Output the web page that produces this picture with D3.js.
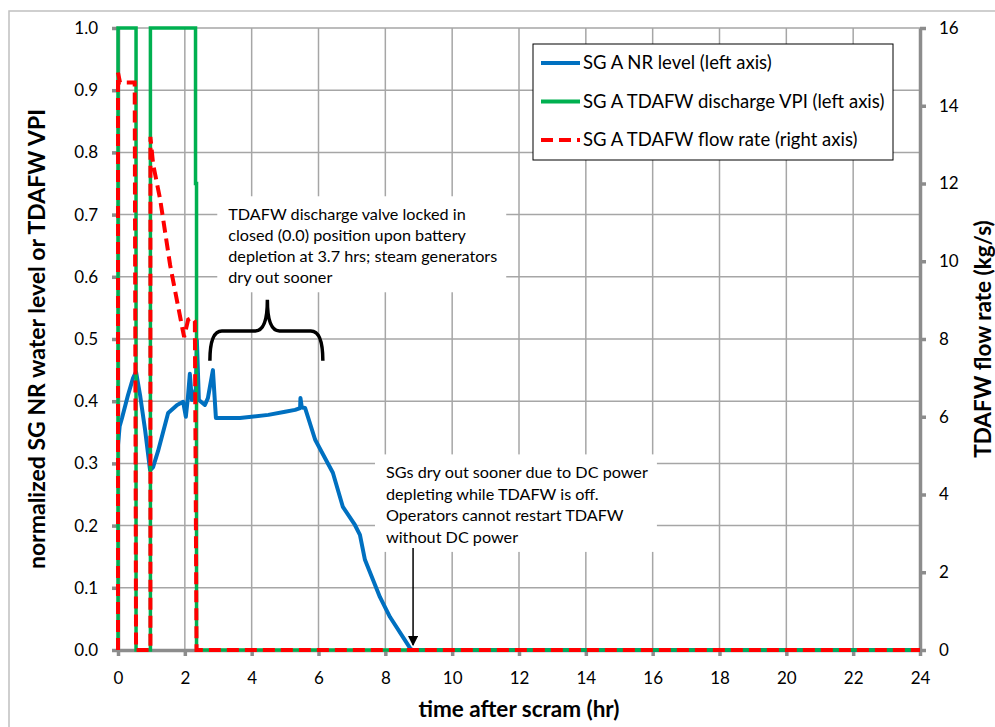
<!DOCTYPE html>
<meta charset="utf-8">
<script src="https://d3js.org/d3.v7.min.js"></script>
<style>
  body { margin: 0; background: #fff; }
  text { font-family: Lato, "Open Sans", sans-serif; fill: #000; }
</style>
<div id="chart"></div>
<script>

// ---- data ----
// SG A NR level (left axis)
var levelT = [0, 0.05, 0.12, 0.3, 0.45, 0.54, 0.66, 0.81, 0.96, 1.05, 1.2, 1.5, 1.77, 1.95, 2.03, 2.09, 2.15, 2.21, 2.27, 2.33, 2.36, 2.42, 2.6, 2.69, 2.84, 2.93, 3.65, 4.5, 5.0, 5.3, 5.45, 5.46, 5.5, 5.6, 5.9, 6.43, 6.73, 7.09, 7.24, 7.39, 7.84, 8.14, 8.74, 8.8, 24];
var levelV = [0.33, 0.36, 0.373, 0.41, 0.437, 0.447, 0.41, 0.354, 0.289, 0.294, 0.32, 0.381, 0.394, 0.399, 0.375, 0.405, 0.444, 0.402, 0.41, 0.42, 0.498, 0.402, 0.394, 0.405, 0.45, 0.373, 0.373, 0.378, 0.383, 0.386, 0.389, 0.405, 0.39, 0.389, 0.338, 0.285, 0.23, 0.201, 0.185, 0.145, 0.085, 0.053, 0.003, 0, 0];

// SG A TDAFW discharge VPI (left axis)
var vpiT = [0, 0, 0.54, 0.54, 0.97, 0.97, 2.32, 2.32, 2.35, 2.35, 24];
var vpiV = [0, 1, 1, 0, 0, 1, 1, 0.75, 0.75, 0, 0];

// SG A TDAFW flow rate (right axis, kg/s)
var flowT = [0, 0, 0.06, 0.5, 0.54, 0.97, 0.97, 1.05, 1.26, 1.56, 1.92, 1.98, 2.1, 2.21, 2.3, 2.35, 24];
var flowV = [0, 14.85, 14.6, 14.6, 0, 0, 13.2, 12.5, 11.6, 9.9, 8.3, 8.05, 8.5, 8.55, 8.45, 0, 0];

var timeTicks = d3.range(0, 25, 2);
var levelTicks = d3.range(0, 11).map(function(i) { return i / 10; });
var flowTicks = d3.range(0, 17, 2);

var seriesNames = ["SG A NR level (left axis)", "SG A TDAFW discharge VPI (left axis)", "SG A TDAFW flow rate (right axis)"];

var note1 = ["TDAFW discharge valve locked in", "closed (0.0) position upon battery", "depletion at 3.7 hrs; steam generators", "dry out sooner"];
var note2 = ["SGs dry out sooner due to DC power", "depleting while TDAFW is off.", "Operators cannot restart TDAFW", "without DC power"];

// ---- layout ----
var W = 995, H = 727;
var margin = {top: 28, right: 75, bottom: 77, left: 118},
    width = W - margin.left - margin.right,
    height = H - margin.top - margin.bottom;

var colors = {level: "#0070C0", vpi: "#00B050", flow: "#FF0000"};
var gray = "#8c8c8c";

var root = d3.select("#chart").append("svg")
    .attr("width", W)
    .attr("height", H);

// outer chart border
root.append("rect")
    .attr("x", 9).attr("y", 11)
    .attr("width", W).attr("height", H)
    .attr("fill", "none")
    .attr("stroke", "#c0c0c0")
    .attr("stroke-width", 1.5);

var svg = root.append("g")
    .attr("transform", "translate(" + margin.left + "," + margin.top + ")");

var x = d3.scaleLinear().domain([0, 24]).range([0, width]);
var y = d3.scaleLinear().domain([0, 1]).range([height, 0]);
var y2 = d3.scaleLinear().domain([0, 16]).range([height, 0]);

// gridlines
svg.append("g").selectAll("line")
    .data(levelTicks.slice(1)).enter()
    .append("line")
    .attr("x1", 0).attr("x2", width)
    .attr("y1", function(d) { return y(d); })
    .attr("y2", function(d) { return y(d); })
    .attr("stroke", "#a6a6a6").attr("stroke-width", 1.5);

svg.append("g").selectAll("line")
    .data(timeTicks.slice(1, -1)).enter()
    .append("line")
    .attr("y1", 0).attr("y2", height)
    .attr("x1", function(d) { return x(d); })
    .attr("x2", function(d) { return x(d); })
    .attr("stroke", "#a6a6a6").attr("stroke-width", 1.5);

// axes
function styleAxis(g) {
    g.select(".domain").attr("stroke", gray).attr("stroke-width", 3.5);
    g.selectAll(".tick line").attr("stroke", gray).attr("stroke-width", 3.5);
    g.selectAll(".tick text").style("font-size", "17px").attr("fill", "#000");
}

svg.append("g")
    .attr("transform", "translate(0," + height + ")")
    .call(d3.axisBottom(x).tickValues(timeTicks).tickFormat(d3.format("d"))
        .tickSizeInner(6).tickSizeOuter(0).tickPadding(16))
    .call(styleAxis);

svg.append("g")
    .call(d3.axisLeft(y).tickValues(levelTicks).tickFormat(d3.format(".1f"))
        .tickSizeInner(6).tickSizeOuter(0).tickPadding(14))
    .call(styleAxis);

svg.append("g")
    .attr("transform", "translate(" + width + ",0)")
    .call(d3.axisRight(y2).tickValues(flowTicks).tickFormat(d3.format("d"))
        .tickSizeInner(6).tickSizeOuter(0).tickPadding(13))
    .call(styleAxis);

// axis titles
root.append("text")
    .attr("x", margin.left + width / 2)
    .attr("y", 717)
    .attr("text-anchor", "middle")
    .style("font-size", "22.5px").style("font-weight", "bold")
    .text("time after scram (hr)");

root.append("text")
    .attr("transform", "translate(45," + (margin.top + height / 2) + ") rotate(-90)")
    .attr("text-anchor", "middle")
    .style("font-size", "23px").style("font-weight", "bold")
    .text("normalized SG NR water level or TDAFW VPI");

root.append("text")
    .attr("transform", "translate(991," + (margin.top + height / 2) + ") rotate(-90)")
    .attr("text-anchor", "middle")
    .style("font-size", "22.5px").style("font-weight", "bold")
    .text("TDAFW flow rate (kg/s)");

// series
var levelLine = d3.line()
    .x(function(d) { return x(levelT[d]); })
    .y(function(d) { return y(levelV[d]); });
var vpiLine = d3.line()
    .x(function(d) { return x(vpiT[d]); })
    .y(function(d) { return y(vpiV[d]); });
var flowLine = d3.line()
    .x(function(d) { return x(flowT[d]); })
    .y(function(d) { return y2(flowV[d]); });

svg.append("path")
    .attr("d", levelLine(d3.range(levelT.length)))
    .attr("fill", "none").attr("stroke", colors.level)
    .attr("stroke-width", 4).attr("stroke-linejoin", "round");

svg.append("path")
    .attr("d", vpiLine(d3.range(vpiT.length)))
    .attr("fill", "none").attr("stroke", colors.vpi)
    .attr("stroke-width", 3.5);

svg.append("path")
    .attr("d", flowLine(d3.range(flowT.length)))
    .attr("fill", "none").attr("stroke", colors.flow)
    .attr("stroke-width", 4).attr("stroke-dasharray", "12,6");

// annotations
function note(lines, tx, vy, lineH) {
    var g = svg.append("g");
    var bg = g.append("rect").attr("fill", "#fff");
    var t = g.append("text")
        .attr("x", x(tx)).attr("y", y(vy))
        .style("font-size", "16.2px");
    t.selectAll("tspan").data(lines).enter()
        .append("tspan")
        .attr("x", x(tx))
        .attr("dy", function(d, i) { return i === 0 ? "0.35em" : lineH; })
        .text(function(d) { return d; });
    var b = t.node().getBBox();
    bg.attr("x", b.x - 11).attr("y", b.y - 8)
        .attr("width", b.width + 20).attr("height", b.height + 14);
    return g;
}
note(note1, 3.3, 0.7, 21);
note(note2, 8.02, 0.285, 21.5);

// curly brace over the flat part of the level curve
var braceL = 2.75, braceR = 6.13, braceMid = 4.47;
var braceEnd = 0.465, braceBar = 0.513, braceTop = 0.563;
var bp = d3.path();
bp.moveTo(x(braceL), y(braceEnd));
bp.quadraticCurveTo(x(braceL), y(braceBar), x(braceL) + 12, y(braceBar));
bp.lineTo(x(braceMid) - 12, y(braceBar));
bp.quadraticCurveTo(x(braceMid), y(braceBar), x(braceMid), y(braceTop));
bp.quadraticCurveTo(x(braceMid), y(braceBar), x(braceMid) + 12, y(braceBar));
bp.lineTo(x(braceR) - 12, y(braceBar));
bp.quadraticCurveTo(x(braceR), y(braceBar), x(braceR), y(braceEnd));
svg.append("path")
    .attr("d", bp.toString())
    .attr("fill", "none").attr("stroke", "#000").attr("stroke-width", 3.5);

// arrow to dry-out point
root.append("defs").append("marker")
    .attr("id", "arrowhead")
    .attr("viewBox", "0 0 10 10")
    .attr("refX", 9).attr("refY", 5)
    .attr("markerWidth", 7).attr("markerHeight", 7)
    .attr("orient", "auto")
    .append("path").attr("d", "M0,0 L10,5 L0,10 z").attr("fill", "#000");

svg.append("line")
    .attr("x1", x(8.83)).attr("x2", x(8.83))
    .attr("y1", y(0.164)).attr("y2", y(0.008))
    .attr("stroke", "#000").attr("stroke-width", 1.5)
    .attr("marker-end", "url(#arrowhead)");

// legend
var legend = root.append("g").attr("transform", "translate(533,44)");
legend.append("rect")
    .attr("width", 360).attr("height", 116)
    .attr("fill", "#fff").attr("stroke", "#000").attr("stroke-width", 1);

var legendStyles = [
    {color: colors.level, dash: null},
    {color: colors.vpi, dash: null},
    {color: colors.flow, dash: "12,6"}
];
var row = legend.selectAll(".row")
    .data(seriesNames).enter()
    .append("g")
    .attr("transform", function(d, i) { return "translate(0," + (19 + i * 38.5) + ")"; });
row.append("line")
    .attr("x1", 8).attr("x2", 47)
    .attr("stroke", function(d, i) { return legendStyles[i].color; })
    .attr("stroke-width", 4)
    .attr("stroke-dasharray", function(d, i) { return legendStyles[i].dash; });
row.append("text")
    .attr("x", 50).attr("dy", "0.35em")
    .style("font-size", "18.5px")
    .text(function(d) { return d; });

</script>
